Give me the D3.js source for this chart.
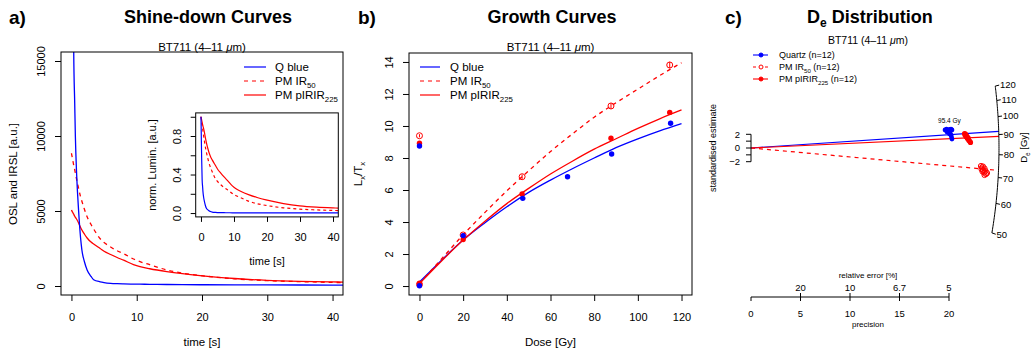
<!DOCTYPE html>
<html>
<head>
<meta charset="utf-8">
<script src="https://cdn.jsdelivr.net/npm/d3@7"></script>
<style>
  body { margin: 0; background: #fff; }
  svg { display: block; font-family: "Liberation Sans", Arial, sans-serif; }
  text { fill: #000; }
</style>
</head>
<body>
<div id="chart"></div>
<script>
// ---- panel a: shine-down curves ----
const shineTime = [0, 0.2, 0.35, 0.5, 0.6, 0.8, 1.1, 1.4, 1.6, 2, 2.4, 3, 3.4, 4.4, 5, 6, 7, 8, 9.5, 10.5, 12, 14.6, 17, 19.7, 25, 29.9, 35, 40, 41.6];
const qBlueSignal = [45000, 26000, 15600, 12200, 10000, 7400, 5000, 3200, 2400, 1600, 1070, 640, 420, 280, 230, 180, 155, 140, 125, 120, 110, 100, 92, 85, 78, 72, 66, 60, 58];
const ir50Signal = [8850, 8400, 8050, 7750, 7530, 7100, 6500, 5950, 5650, 5100, 4620, 4100, 3800, 3150, 2900, 2600, 2350, 2150, 1800, 1620, 1420, 1070, 860, 700, 480, 360, 290, 240, 225];
const pirSignal = [5070, 4900, 4780, 4650, 4580, 4450, 4200, 3900, 3730, 3450, 3200, 2930, 2800, 2500, 2320, 2100, 1900, 1720, 1430, 1290, 1150, 960, 820, 690, 500, 380, 310, 270, 260];
const shineXTicks = [0, 10, 20, 30, 40];
const shineYTicks = [0, 5000, 10000, 15000];
const insetYTicks = [0, 0.2, 0.4, 0.6, 0.8, 1.0];
const insetYLabels = ["0.0", "", "0.4", "", "0.8", ""];

// ---- panel b: growth curves ----
const qDose = [0, 20, 47.3, 67.8, 88, 115];
const qLxTx = [0.02, 3.15, 5.48, 6.83, 8.25, 10.17];
const qNatural = 8.75;
const fDose = [0, 20, 47, 87.7, 114.6];
const ir50LxTx = [0.1, 3.19, 6.83, 11.25, 13.81];
const ir50Err = [0.05, 0.12, 0.14, 0.18, 0.2];
const ir50Natural = 9.39;
const pirLxTx = [0.17, 2.9, 5.75, 9.23, 10.85];
const pirNatural = 8.92;
const fitDose = [0, 10, 20, 30, 40, 50, 60, 70, 80, 90, 100, 110, 120];
const qFit = [0.25, 1.6, 2.87, 3.95, 4.95, 5.85, 6.62, 7.33, 8.0, 8.65, 9.2, 9.7, 10.15];
const pirFit = [0.15, 1.55, 2.87, 4.05, 5.15, 6.1, 7.0, 7.8, 8.55, 9.2, 9.85, 10.45, 11.0];
const ir50Fit = [0.15, 1.68, 3.2, 4.6, 5.95, 7.2, 8.4, 9.5, 10.55, 11.45, 12.3, 13.15, 13.95];
const doseTicks = [0, 20, 40, 60, 80, 100, 120];
const lxTicks = [0, 2, 4, 6, 8, 10, 12, 14];

// ---- panel c: radial plot of De ----
const qPrec = [19.6, 19.75, 19.9, 20.05, 20.2, 20.3, 19.8, 20.1, 20.2, 20.25, 20.3, 20.05];
const qStd = [2.63, 2.77, 2.48, 2.7, 2.77, 2.63, 2.34, 2.19, 1.9, 1.61, 1.31, 2.04];
const pirPrec = [21.57, 21.62, 21.67, 21.72, 21.77, 21.82, 21.87, 21.92, 21.97, 22.02, 22.12, 22.17];
const pirStd = [2.12, 1.9, 2.04, 1.68, 1.82, 1.53, 1.39, 1.53, 1.24, 1.09, 0.95, 0.8];
const ir50Prec = [23.23, 23.33, 23.43, 23.28, 23.43, 23.59, 23.38, 23.54, 23.69, 23.74, 23.59, 23.84];
const ir50Std = [-2.63, -2.85, -2.7, -3.07, -3.21, -2.99, -3.43, -3.58, -3.36, -3.8, -3.94, -3.65];
const centralDe = { q: 91.7, ir50: 73.0, pir: 89.0 };
const refDe = 83.2;
const deTicks = [50, 60, 70, 80, 90, 100, 110, 120];
const stdTicks = [-2, -1, 0, 1, 2];
const stdLabels = ["\u22122", "", "0", "", "2"];
const precTicks = [0, 5, 10, 15, 20];
const relErrTicks = [5, 10, 15, 20];
const relErrLabels = ["20", "10", "6.7", "5"];

const BLUE = "#0000ff", RED = "#ff0000";

const svg = d3.select("#chart").append("svg")
  .attr("width", 1033).attr("height", 356);
svg.append("rect").attr("width", 1033).attr("height", 356).attr("fill", "#fff");

// text with subscripts: parts = [[str, sub?, italic?], ...]
function rich(sel, parts, fs) {
  let down = false;
  parts.forEach(p => {
    const t = sel.append("tspan").text(p[0]);
    if (p[1]) { t.attr("font-size", fs * 0.68).attr("dy", down ? 0 : fs * 0.3); down = true; }
    else { t.attr("font-size", fs); if (down) { t.attr("dy", -fs * 0.3); down = false; } }
    if (p[2]) t.attr("font-style", "italic");
  });
  return sel;
}

function subtitle(cx, y, fs) {
  rich(svg.append("text").attr("x", cx).attr("y", y).attr("text-anchor", "middle"),
    [["BT711 (4\u201311 "], ["\u03bc", false, true], ["m)"]], fs);
}

function xAxis(scale, y0, ticks, tick, lab, fs, labels) {
  const ax = d3.axisBottom(scale).tickValues(ticks).tickSize(tick).tickSizeOuter(0)
    .tickFormat((d, i) => labels ? labels[i] : d3.format("d")(d));
  const g = svg.append("g").attr("transform", `translate(0,${y0})`).call(ax)
    .attr("font-family", null).attr("font-size", null);
  g.select(".domain").remove();
  g.selectAll("text").attr("y", lab).attr("dy", 0).style("font-size", fs + "px");
  return g;
}

function yAxis(scale, x0, ticks, tick, lab, fs, labels) {
  const ax = d3.axisLeft(scale).tickValues(ticks).tickSize(tick).tickSizeOuter(0)
    .tickFormat((d, i) => labels ? labels[i] : d3.format("d")(d));
  const g = svg.append("g").attr("transform", `translate(${x0},0)`).call(ax)
    .attr("font-family", null).attr("font-size", null);
  g.select(".domain").remove();
  g.selectAll("text").attr("x", 0).attr("y", -lab).attr("dy", 0)
    .attr("text-anchor", "middle").attr("transform", "rotate(-90)")
    .style("font-size", fs + "px");
  return g;
}

function vLabel(x, y, parts, fs) {
  return rich(svg.append("text").attr("text-anchor", "middle")
    .attr("transform", `translate(${x},${y}) rotate(-90)`), parts, fs);
}

function legend(x0, x1, xt, ys, items, fs) {
  items.forEach((it, i) => {
    svg.append("line").attr("x1", x0).attr("x2", x1).attr("y1", ys[i] - 4).attr("y2", ys[i] - 4)
      .attr("stroke", it.color).attr("stroke-width", 1.2).attr("stroke-dasharray", it.dash || null);
    rich(svg.append("text").attr("x", xt).attr("y", ys[i]), it.parts, fs);
  });
}

// =================== panel a ===================
{
  const x = d3.scaleLinear().domain([-1.6, 41.6]).range([61, 343]);
  const y = d3.scaleLinear().domain([-600, 15600]).range([295, 52]);
  svg.append("clipPath").attr("id", "clipA").append("rect")
    .attr("x", 61).attr("y", 52).attr("width", 282).attr("height", 243);
  const line = d3.line().x(d => x(d[0])).y(d => y(d[1])).curve(d3.curveMonotoneX);
  const gA = svg.append("g").attr("clip-path", "url(#clipA)");
  [[ir50Signal, "4,4"], [pirSignal, null], [qBlueSignal, null]].forEach(([v, dash], i) => {
    gA.append("path").datum(d3.zip(shineTime, v)).attr("d", line).attr("fill", "none")
      .attr("stroke", i === 2 ? BLUE : RED).attr("stroke-width", 1.3)
      .attr("stroke-dasharray", dash);
  });
  svg.append("rect").attr("x", 61).attr("y", 52).attr("width", 282).attr("height", 243)
    .attr("fill", "none").attr("stroke", "#000");
  xAxis(x, 295, shineXTicks, 6, 25.7, 11);
  yAxis(y, 61, shineYTicks, 6, 16, 11);
  svg.append("text").attr("x", 202).attr("y", 346).attr("text-anchor", "middle")
    .style("font-size", "11.5px").text("time [s]");
  vLabel(17, 174, [["OSL and IRSL [a.u.]"]], 11.5);
  svg.append("text").attr("x", 9).attr("y", 24).attr("font-weight", "bold")
    .style("font-size", "19px").text("a)");
  svg.append("text").attr("x", 208).attr("y", 23).attr("text-anchor", "middle")
    .attr("font-weight", "bold").style("font-size", "18px").text("Shine-down Curves");
  subtitle(202, 51, 11.5);
  legend(244, 266, 275, [71, 85, 99], [
    { color: BLUE, parts: [["Q blue"]] },
    { color: RED, dash: "4,4", parts: [["PM IR"], ["50", true]] },
    { color: RED, parts: [["PM pIRIR"], ["225", true]] }
  ], 11.5);

  // inset: normalised curves
  const xi = d3.scaleLinear().domain([-1.6, 41.6]).range([195.7, 338.3]);
  const yi = d3.scaleLinear().domain([-0.04, 1.04]).range([216.9, 112.9]);
  svg.append("rect").attr("x", 195.7).attr("y", 112.9).attr("width", 142.6).attr("height", 104)
    .attr("fill", "#fff");
  svg.append("clipPath").attr("id", "clipI").append("rect")
    .attr("x", 195.7).attr("y", 112.9).attr("width", 142.6).attr("height", 104);
  const gI = svg.append("g").attr("clip-path", "url(#clipI)");
  const lineI = d3.line().x(d => xi(d[0])).y(d => yi(d[1])).curve(d3.curveMonotoneX);
  [[ir50Signal, "3,3", RED], [pirSignal, null, RED], [qBlueSignal, null, BLUE]].forEach(([v, dash, c]) => {
    gI.append("path").datum(d3.zip(shineTime, v.map(s => s / v[0]))).attr("d", lineI)
      .attr("fill", "none").attr("stroke", c).attr("stroke-width", 1.2).attr("stroke-dasharray", dash);
  });
  svg.append("rect").attr("x", 195.7).attr("y", 112.9).attr("width", 142.6).attr("height", 104)
    .attr("fill", "none").attr("stroke", "#000");
  xAxis(xi, 216.9, shineXTicks, 5, 23.8, 11);
  yAxis(yi, 195.7, insetYTicks, 5, 15, 11, insetYLabels);
  svg.append("text").attr("x", 267).attr("y", 265).attr("text-anchor", "middle")
    .style("font-size", "11px").text("time [s]");
  vLabel(156, 165, [["norm. Lumin. [a.u.]"]], 11);
}

// =================== panel b ===================
{
  const x = d3.scaleLinear().domain([-4.8, 124.8]).range([409, 692]);
  const y = d3.scaleLinear().domain([-0.56, 14.56]).range([295, 53]);
  const line = d3.line().x(d => x(d[0])).y(d => y(d[1])).curve(d3.curveMonotoneX);
  [[qFit, BLUE, null], [pirFit, RED, null], [ir50Fit, RED, "4,4"]].forEach(([v, c, dash]) => {
    svg.append("path").datum(d3.zip(fitDose, v)).attr("d", line).attr("fill", "none")
      .attr("stroke", c).attr("stroke-width", 1.3).attr("stroke-dasharray", dash);
  });
  // open circles (IR50) with error bars
  const gO = svg.append("g");
  d3.zip(fDose.concat([0]), ir50LxTx.concat([ir50Natural]), ir50Err.concat([0.1])).forEach(([d, v, e]) => {
    gO.append("line").attr("x1", x(d)).attr("x2", x(d)).attr("y1", y(v - e)).attr("y2", y(v + e))
      .attr("stroke", RED).attr("stroke-width", 1);
    gO.append("circle").attr("cx", x(d)).attr("cy", y(v)).attr("r", 3)
      .attr("fill", "none").attr("stroke", RED).attr("stroke-width", 1);
  });
  svg.append("g").selectAll("circle")
    .data(d3.zip(fDose.concat([0]), pirLxTx.concat([pirNatural]))).join("circle")
    .attr("cx", d => x(d[0])).attr("cy", d => y(d[1])).attr("r", 2.7).attr("fill", RED);
  svg.append("g").selectAll("circle")
    .data(d3.zip(qDose.concat([0]), qLxTx.concat([qNatural]))).join("circle")
    .attr("cx", d => x(d[0])).attr("cy", d => y(d[1])).attr("r", 2.7).attr("fill", BLUE);

  svg.append("rect").attr("x", 409).attr("y", 53).attr("width", 283).attr("height", 242)
    .attr("fill", "none").attr("stroke", "#000");
  xAxis(x, 295, doseTicks, 6, 25.7, 11);
  yAxis(y, 409, lxTicks, 6, 16.3, 11);
  svg.append("text").attr("x", 550.5).attr("y", 346).attr("text-anchor", "middle")
    .style("font-size", "11.5px").text("Dose [Gy]");
  vLabel(362, 174, [["L"], ["x", true], ["/T"], ["x", true]], 11.5);
  svg.append("text").attr("x", 358).attr("y", 24).attr("font-weight", "bold")
    .style("font-size", "19px").text("b)");
  svg.append("text").attr("x", 552).attr("y", 23).attr("text-anchor", "middle")
    .attr("font-weight", "bold").style("font-size", "18px").text("Growth Curves");
  subtitle(550.5, 51, 11.5);
  legend(420, 440, 450, [71, 85, 99], [
    { color: BLUE, parts: [["Q blue"]] },
    { color: RED, dash: "4,4", parts: [["PM IR"], ["50", true]] },
    { color: RED, parts: [["PM pIRIR"], ["225", true]] }
  ], 11.5);
}

// =================== panel c ===================
{
  const x = d3.scaleLinear().domain([0, 20]).range([751, 949]);
  const y = d3.scaleLinear().domain([-2, 2]).range([161.7, 134.3]);
  const z0 = Math.log(refDe);
  const arcR = 25.05, arcF = 0.48;
  const arcPt = (D, k = 1) => {
    const dz = Math.log(D) - z0;
    const xx = k * arcR / Math.sqrt(1 + arcF * arcF * dz * dz);
    return [xx, dz * xx];
  };
  const line = d3.line().x(d => x(d[0])).y(d => y(d[1]));

  // central value lines
  [[centralDe.q, BLUE, null], [centralDe.pir, RED, null], [centralDe.ir50, RED, "4,4"]].forEach(([D, c, dash]) => {
    svg.append("path").datum([[0, 0], arcPt(D)]).attr("d", line).attr("fill", "none")
      .attr("stroke", c).attr("stroke-width", 1.2).attr("stroke-dasharray", dash);
  });

  // points
  svg.append("g").selectAll("circle").data(d3.zip(ir50Prec, ir50Std)).join("circle")
    .attr("cx", d => x(d[0])).attr("cy", d => y(d[1])).attr("r", 2.6)
    .attr("fill", "none").attr("stroke", RED).attr("stroke-width", 1);
  svg.append("g").selectAll("circle").data(d3.zip(pirPrec, pirStd)).join("circle")
    .attr("cx", d => x(d[0])).attr("cy", d => y(d[1])).attr("r", 2.6).attr("fill", RED);
  svg.append("g").selectAll("circle").data(d3.zip(qPrec, qStd)).join("circle")
    .attr("cx", d => x(d[0])).attr("cy", d => y(d[1])).attr("r", 2.4).attr("fill", BLUE);
  svg.append("text").attr("x", d3.mean(qPrec, x)).attr("y", y(d3.max(qStd)) - 6)
    .attr("text-anchor", "middle").style("font-size", "6.5px").text("95.4 Gy");

  // z axis (De arc)
  svg.append("path").datum(d3.range(50, 120.5, 1).map(D => arcPt(D))).attr("d", line)
    .attr("fill", "none").attr("stroke", "#000").attr("stroke-width", 1);
  deTicks.forEach(D => {
    const a = arcPt(D), b = arcPt(D, 1.016), l = arcPt(D, 1.019);
    svg.append("line").attr("x1", x(a[0])).attr("y1", y(a[1])).attr("x2", x(b[0])).attr("y2", y(b[1]))
      .attr("stroke", "#000");
    svg.append("text").attr("x", x(l[0])).attr("y", y(l[1])).attr("dy", "0.36em")
      .style("font-size", "9.5px").text(D);
  });
  vLabel(1027, 147.5, [["D"], ["e", true], [" [Gy]"]], 9.5);

  // standardised estimate axis
  svg.append("line").attr("x1", x(0)).attr("x2", x(0)).attr("y1", y(-2)).attr("y2", y(2)).attr("stroke", "#000");
  stdTicks.forEach((t, i) => {
    svg.append("line").attr("x1", x(0) - 5).attr("x2", x(0)).attr("y1", y(t)).attr("y2", y(t)).attr("stroke", "#000");
    svg.append("text").attr("x", x(0) - 11).attr("y", y(t)).attr("dy", "0.36em")
      .attr("text-anchor", "end").style("font-size", "9.5px").text(stdLabels[i]);
  });
  vLabel(716, 148, [["standardised estimate"]], 9);

  // precision / relative error axis
  const py = 297;
  svg.append("line").attr("x1", x(0)).attr("x2", x(20)).attr("y1", py).attr("y2", py).attr("stroke", "#000");
  precTicks.forEach(t => {
    svg.append("line").attr("x1", x(t)).attr("x2", x(t)).attr("y1", py).attr("y2", py + 4).attr("stroke", "#000");
    svg.append("text").attr("x", x(t)).attr("y", 316.7).attr("text-anchor", "middle")
      .style("font-size", "9.5px").text(t);
  });
  relErrTicks.forEach((t, i) => {
    svg.append("line").attr("x1", x(t)).attr("x2", x(t)).attr("y1", py - 4).attr("y2", py).attr("stroke", "#000");
    svg.append("text").attr("x", x(t)).attr("y", 290.7).attr("text-anchor", "middle")
      .style("font-size", "9.5px").text(relErrLabels[i]);
  });
  svg.append("text").attr("x", 868).attr("y", 326.5).attr("text-anchor", "middle")
    .style("font-size", "8px").text("precision");
  svg.append("text").attr("x", 868).attr("y", 277.5).attr("text-anchor", "middle")
    .style("font-size", "8px").text("relative error [%]");

  // titles
  svg.append("text").attr("x", 725).attr("y", 24).attr("font-weight", "bold")
    .style("font-size", "19px").text("c)");
  const tt = svg.append("text").attr("x", 807).attr("y", 23).attr("font-weight", "bold");
  tt.append("tspan").style("font-size", "18px").text("D");
  tt.append("tspan").style("font-size", "12px").attr("dy", 4).text("e");
  tt.append("tspan").style("font-size", "18px").attr("dy", -4).text(" Distribution");
  subtitle(868, 43.5, 10.5);

  // legend
  const items = [
    { color: BLUE, dash: null, fill: BLUE, parts: [["Quartz (n=12)"]] },
    { color: RED, dash: "3,3", fill: "none", parts: [["PM IR"], ["50", true], [" (n=12)"]] },
    { color: RED, dash: null, fill: RED, parts: [["PM pIRIR"], ["225", true], [" (n=12)"]] }
  ];
  [55, 67, 79].forEach((ly, i) => {
    const it = items[i];
    svg.append("line").attr("x1", 753).attr("x2", 768).attr("y1", ly).attr("y2", ly)
      .attr("stroke", it.color).attr("stroke-width", 1.1).attr("stroke-dasharray", it.dash);
    svg.append("circle").attr("cx", 761).attr("cy", ly).attr("r", 2)
      .attr("fill", it.fill === "none" ? "#fff" : it.fill).attr("stroke", it.color).attr("stroke-width", 1);
    rich(svg.append("text").attr("x", 779).attr("y", ly + 3.3), it.parts, 9);
  });
}
</script>
</body>
</html>
